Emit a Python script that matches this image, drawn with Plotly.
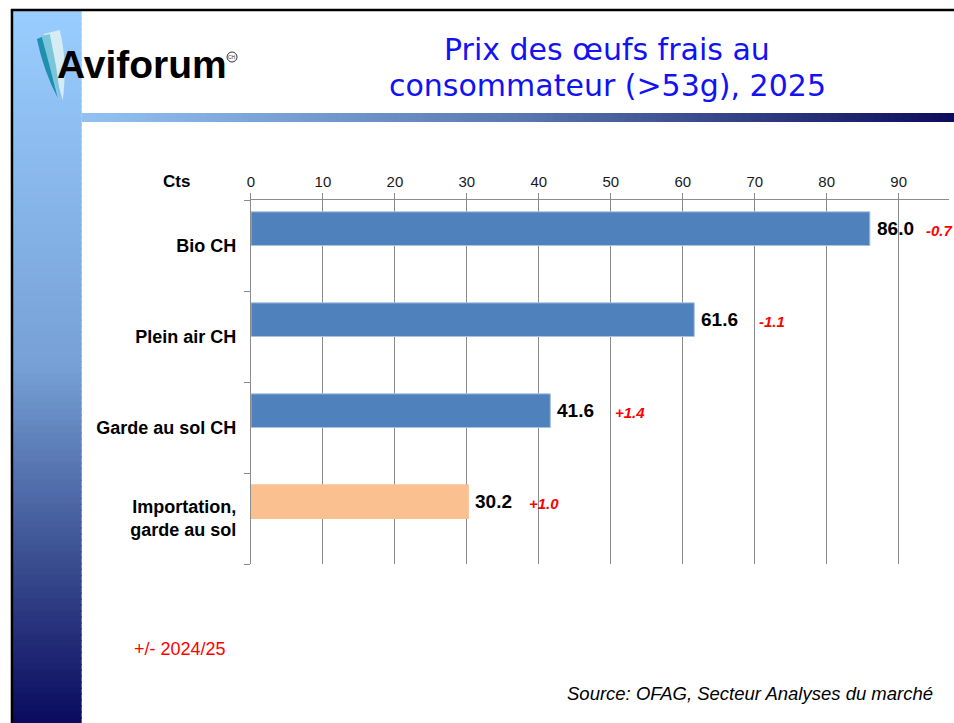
import plotly.graph_objects as go

# ---------------- data ----------------
categories = ["Bio CH", "Plein air CH", "Garde au sol CH", "Importation, garde au sol"]
category_labels = ["Bio CH", "Plein air CH", "Garde au sol CH", "Importation,<br>garde au sol"]
prices_cts = [86.0, 61.6, 41.6, 30.2]
change_vs_2024 = ["-0.7", "-1.1", "+1.4", "+1.0"]
x_ticks = [0, 10, 20, 30, 40, 50, 60, 70, 80, 90]

# ---------------- styling ----------------
W, H = 954, 723
bar_colors = ["#4f81bd", "#4f81bd", "#4f81bd", "#fac090"]
bar_edges = ["#a9c2e0", "#a9c2e0", "#a9c2e0", "#fac090"]
change_shift_px = [54, 63, 63, 59]
GRID = "#8c8c8c"
FONT = "Liberation Sans, Arial, sans-serif"


def px(x):
    return x / W


def py(y):
    return 1 - y / H


def hex2rgb(h):
    h = h.lstrip("#")
    return tuple(int(h[i:i + 2], 16) for i in (0, 2, 4))


def interp(stops, t):
    for (t0, c0), (t1, c1) in zip(stops[:-1], stops[1:]):
        if t0 <= t <= t1:
            f = (t - t0) / (t1 - t0) if t1 > t0 else 0
            a, b = hex2rgb(c0), hex2rgb(c1)
            return "rgb(%d,%d,%d)" % tuple(round(a[k] + (b[k] - a[k]) * f) for k in range(3))
    return stops[-1][1]


shapes = []

# left vertical gradient band
v_stops = [(0, "#9acdff"), (0.5, "#76a0d6"), (0.77, "#3b4f90"), (1.0, "#0a0a5e")]
N = 120
y_top, y_bot = 11, H
for i in range(N):
    y0 = y_top + (y_bot - y_top) * i / N
    y1 = min(y_top + (y_bot - y_top) * (i + 1) / N + 1.5, H)
    shapes.append(dict(type="rect", xref="paper", yref="paper", x0=px(9), x1=px(78),
                       y0=py(y1), y1=py(y0), fillcolor=interp(v_stops, (i + 0.5) / N),
                       line=dict(width=0), layer="below"))

# horizontal gradient band under the title
h_stops = [(0, "#92c2f2"), (0.5, "#5a78ae"), (1.0, "#0c0c5c")]
N = 120
x_l, x_r = 78, W
for i in range(N):
    x0 = x_l + (x_r - x_l) * i / N
    x1 = min(x_l + (x_r - x_l) * (i + 1) / N + 1.5, W)
    shapes.append(dict(type="rect", xref="paper", yref="paper", x0=px(x0), x1=px(x1),
                       y0=py(122), y1=py(113), fillcolor=interp(h_stops, (i + 0.5) / N),
                       line=dict(width=0), layer="below"))

# black frame lines (top and left)
shapes.append(dict(type="line", xref="paper", yref="paper", x0=px(7), x1=px(W), y0=py(10), y1=py(10),
                   line=dict(color="black", width=2.5)))
shapes.append(dict(type="line", xref="paper", yref="paper", x0=px(8), x1=px(8), y0=py(9), y1=py(H),
                   line=dict(color="black", width=2.5)))


def path(cmds):
    out = []
    for c in cmds:
        if isinstance(c, str):
            out.append(c)
        else:
            out.append("%.5f,%.5f" % (px(c[0]), py(c[1])))
    return " ".join(out)


# feather logo mark
shapes.append(dict(type="path", xref="paper", yref="paper", layer="above",
                   path=path(["M", (40, 34), "L", (56, 30), "Q", (64, 62), (59, 100), "Q", (49, 68), (40, 34), "Z"]),
                   fillcolor="#d6ecf4", line=dict(width=0)))
shapes.append(dict(type="path", xref="paper", yref="paper", layer="above",
                   path=path(["M", (38, 36), "L", (46, 34), "Q", (53, 66), (57, 99), "Q", (45, 70), (38, 36), "Z"]),
                   fillcolor="#7cc6dc", line=dict(width=0)))
shapes.append(dict(type="path", xref="paper", yref="paper", layer="above",
                   path=path(["M", (33, 39), "L", (38, 37), "Q", (47, 70), (54, 98), "Q", (40, 72), (33, 39), "Z"]),
                   fillcolor="#1f8fae", line=dict(width=0)))
# circled "CH" mark
shapes.append(dict(type="circle", xref="paper", yref="paper", x0=px(224), x1=px(234), y0=py(62), y1=py(52),
                   line=dict(color="#333333", width=1)))

fig = go.Figure()
fig.add_trace(go.Bar(
    y=categories, x=prices_cts, orientation="h",
    width=0.37, offset=-0.37,
    marker=dict(color=bar_colors, line=dict(color=bar_edges, width=1)),
    hoverinfo="x+y", showlegend=False,
))

annotations = []
for cat, v, ch, sh in zip(categories, prices_cts, change_vs_2024, change_shift_px):
    annotations.append(dict(x=v, y=cat, xref="x", yref="y", xanchor="left", yanchor="middle",
                            xshift=5, yshift=17, showarrow=False,
                            text="<b>%.1f</b>" % v, font=dict(family=FONT, size=19, color="black")))
    annotations.append(dict(x=v, y=cat, xref="x", yref="y", xanchor="left", yanchor="middle",
                            xshift=sh, yshift=15, showarrow=False,
                            text="<b><i>%s</i></b>" % ch, font=dict(family=FONT, size=15, color="#ff0000")))

# axis unit label
annotations.append(dict(x=px(173), y=py(181), xref="paper", yref="paper", showarrow=False,
                        xanchor="center", yanchor="middle", text="<b>Cts</b>",
                        font=dict(family=FONT, size=17, color="black")))

# title
TITLE_FONT = dict(family="DejaVu Sans, Verdana, sans-serif", size=30, color="#1212f2")
annotations.append(dict(x=px(606), y=py(50), xref="paper", yref="paper", showarrow=False,
                        xanchor="center", yanchor="middle", text="Prix des œufs frais au", font=TITLE_FONT))
annotations.append(dict(x=px(606), y=py(85), xref="paper", yref="paper", showarrow=False,
                        xanchor="center", yanchor="middle", text="consommateur (&gt;53g), 2025", font=TITLE_FONT))

# logo text
annotations.append(dict(x=px(51), y=py(64), xref="paper", yref="paper", showarrow=False,
                        xanchor="left", yanchor="middle", text="<b>Aviforum</b>",
                        font=dict(family="Liberation Sans, Arial", size=39, color="black")))
annotations.append(dict(x=px(229), y=py(57), xref="paper", yref="paper", showarrow=False,
                        xanchor="center", yanchor="middle", text="CH",
                        font=dict(family=FONT, size=5, color="#333333")))

# footer notes
annotations.append(dict(x=px(129), y=py(649), xref="paper", yref="paper", showarrow=False,
                        xanchor="left", yanchor="middle", text="+/- 2024/25",
                        font=dict(family=FONT, size=18, color="#ff0000")))
annotations.append(dict(x=px(935), y=py(693), xref="paper", yref="paper", showarrow=False,
                        xanchor="right", yanchor="middle", text="<i>Source: OFAG, Secteur Analyses du marché</i>",
                        font=dict(family=FONT, size=18.5, color="black")))

fig.update_layout(
    width=W, height=H,
    margin=dict(l=0, r=0, t=0, b=0),
    paper_bgcolor="white", plot_bgcolor="white",
    shapes=shapes, annotations=annotations,
    bargap=0.63,
    xaxis=dict(
        domain=[px(248), px(949)], range=[0, 97], side="top",
        tickvals=x_ticks, ticks="outside", ticklen=6, tickcolor=GRID, tickwidth=1,
        showline=True, linecolor=GRID, linewidth=1,
        showgrid=True, gridcolor=GRID, gridwidth=1, zeroline=False,
        tickfont=dict(family=FONT, size=15, color="#1a1a1a"),
        fixedrange=True,
    ),
    yaxis=dict(
        domain=[py(564), py(200)], type="category",
        categoryorder="array", categoryarray=categories,
        tickvals=categories, ticktext=category_labels,
        range=[3.5, -0.5],
        ticks="outside", tickson="boundaries", ticklen=6, tickcolor=GRID, tickwidth=1,
        ticklabelstandoff=10,
        showline=True, linecolor=GRID, linewidth=1, showgrid=False, zeroline=False,
        tickfont=dict(family=FONT, size=18, color="black", weight="bold"),
        fixedrange=True,
    ),
)

fig.write_html(
    "out.html",
    config={"displayModeBar": False},
    post_script="document.body.style.margin='0px';document.documentElement.style.overflow='hidden';",
)
